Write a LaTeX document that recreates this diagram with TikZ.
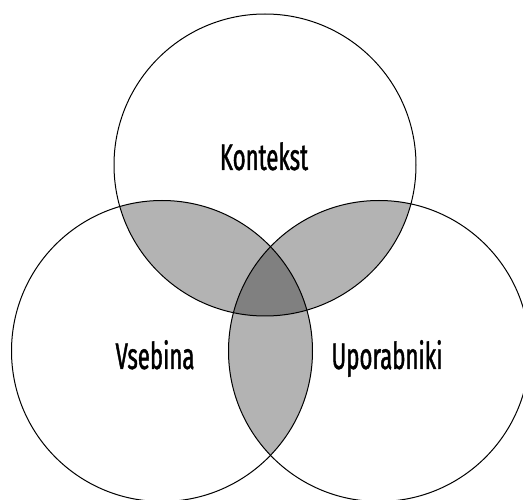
\documentclass[tikz,border=0pt]{standalone}
\usepackage{fontspec}
\newfontfamily\oswfont[FakeStretch=0.6,FakeBold=1.1]{Fira Sans}
\definecolor{lightfill}{RGB}{179,179,179}
\definecolor{darkfill}{RGB}{128,128,128}
\begin{document}
\begin{tikzpicture}[x=1pt,y=-1pt,
  ring/.style={draw=black,line width=1pt},
  lbl/.style={font=\oswfont\fontsize{37}{42}\selectfont,anchor=base,inner sep=0pt,text=black}]
\useasboundingbox (0,0) rectangle (523,500);
\coordinate (ct) at (265,165);
\coordinate (cl) at (162,351);
\coordinate (cr) at (379,351);
\def\rt{151}
\def\rs{150.5}
% pairwise overlaps
\begin{scope}
  \clip (ct) circle[radius=\rt];
  \fill[lightfill] (cl) circle[radius=\rs];
  \fill[lightfill] (cr) circle[radius=\rs];
\end{scope}
\begin{scope}
  \clip (cl) circle[radius=\rs];
  \fill[lightfill] (cr) circle[radius=\rs];
\end{scope}
% triple overlap
\begin{scope}
  \clip (ct) circle[radius=\rt];
  \clip (cl) circle[radius=\rs];
  \fill[darkfill] (cr) circle[radius=\rs];
\end{scope}
% outlines
\draw[ring] (ct) circle[radius=\rt];
\draw[ring] (cl) circle[radius=\rs];
\draw[ring] (cr) circle[radius=\rs];
% labels
\node[lbl] (kontekst) at (264,170) {Kontekst};
\node[lbl] (vsebina) at (155,369) {Vsebina};
\node[lbl] (uporabniki) at (387,369) {Uporabniki};
\end{tikzpicture}
\end{document}
